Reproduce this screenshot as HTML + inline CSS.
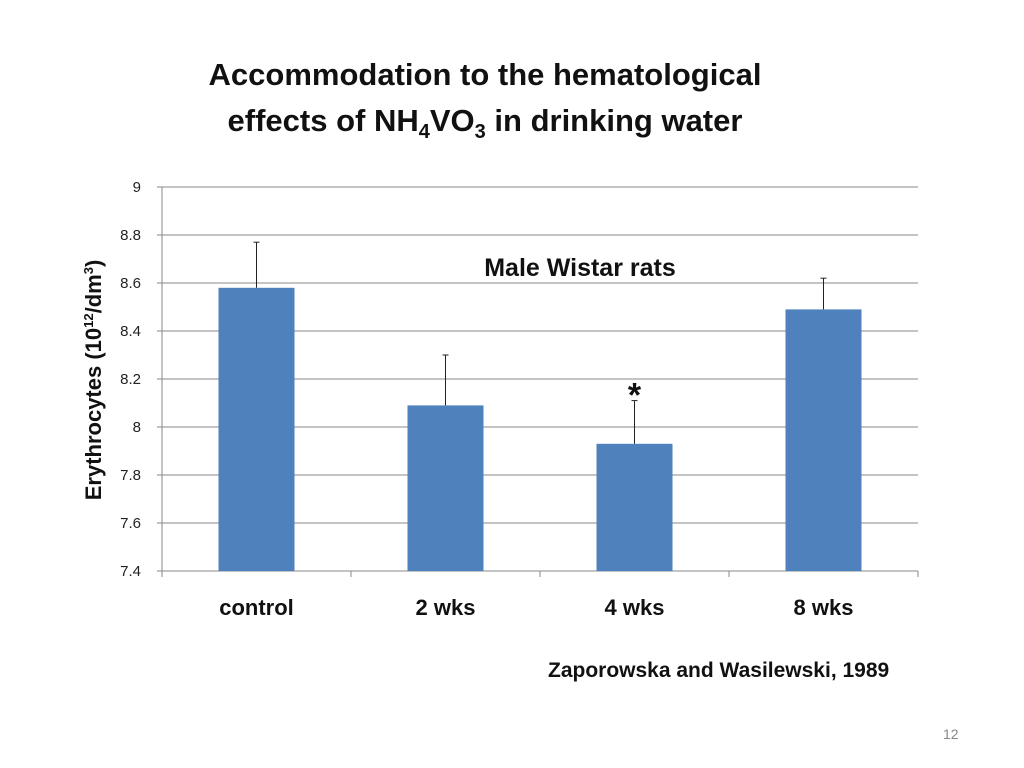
<!DOCTYPE html>
<html><head><meta charset="utf-8"><style>
body{margin:0;background:#fff;font-family:"Liberation Sans",sans-serif;}
#wrap{position:relative;width:1024px;height:768px;overflow:hidden;}
.t{position:absolute;white-space:nowrap;}
</style></head><body>
<div id="wrap">
<div class="t" style="left:0;width:970px;text-align:center;top:52px;font-size:31px;font-weight:bold;line-height:46px;color:#111;">Accommodation to the hematological<br>effects of NH<sub style="font-size:20px">4</sub>VO<sub style="font-size:20px">3</sub> in drinking water</div>
<svg id="chart" width="1024" height="768" style="position:absolute;left:0;top:0"></svg>
<div class="t" style="left:548px;top:659px;font-size:21px;font-weight:bold;color:#111;">Zaporowska and Wasilewski, 1989</div>
<div class="t" style="left:943px;top:726px;font-size:14px;color:#888;">12</div>
</div>
<script>
const categories=["control","2 wks","4 wks","8 wks"];
const values=[8.58,8.09,7.93,8.49];
const errors=[0.19,0.21,0.18,0.13];
const ticks=[7.4,7.6,7.8,8,8.2,8.4,8.6,8.8,9];
const NS="http://www.w3.org/2000/svg";
const svg=document.getElementById('chart');
const x0=162,x1=918,yTop=187,yBot=571,vMin=7.4,vMax=9;
const y=v=>yBot-(v-vMin)/(vMax-vMin)*(yBot-yTop);
const bw=(x1-x0)/categories.length;
const xc=i=>x0+bw*(i+0.5);
function mk(tag,attrs){const e=document.createElementNS(NS,tag);for(const k in attrs)e.setAttribute(k,attrs[k]);svg.appendChild(e);return e;}
ticks.forEach(t=>{
 const g=mk('line',{x1:x0,x2:x1,y1:y(t),y2:y(t),stroke:'#8a8a8a','stroke-width':1});
 
 
 const tx=mk('text',{x:141,y:y(t)+5,'text-anchor':'end','font-size':15,fill:'#222','font-family':'Liberation Sans, sans-serif'});
 tx.textContent=String(t);
 
 
 mk('line',{x1:x0-5,x2:x0,y1:y(t),y2:y(t),stroke:'#8a8a8a'});
});
const ax=mk('line',{x1:x0,x2:x0,y1:yTop,y2:yBot,stroke:'#8a8a8a'});


for(let i=0;i<=categories.length;i++){mk('line',{x1:x0+bw*i,x2:x0+bw*i,y1:yBot,y2:yBot+6,stroke:'#8a8a8a'});}
categories.forEach((c,i)=>{
 const b=mk('rect',{x:xc(i)-38,y:y(values[i]),width:76,height:yBot-y(values[i]),fill:'#4f81bd'});
 
 
 const top=y(values[i]+errors[i]);
 const e=mk('line',{x1:xc(i),x2:xc(i),y1:y(values[i]),y2:top,stroke:'#222'});
 
 
 mk('line',{x1:xc(i)-3,x2:xc(i)+3,y1:top,y2:top,stroke:'#222'});
 const l=mk('text',{x:xc(i),y:615,'text-anchor':'middle','font-size':22,'font-weight':'bold',fill:'#111','font-family':'Liberation Sans, sans-serif'});
 l.textContent=c;
 
 
});
const star=mk('text',{x:xc(2),y:y(values[2]+errors[2])+6,'text-anchor':'middle','font-size':34,'font-weight':'bold',fill:'#111','font-family':'Liberation Sans, sans-serif'});
star.textContent='*';


const ann=mk('text',{x:580,y:276,'text-anchor':'middle','font-size':25,'font-weight':'bold',fill:'#111','font-family':'Liberation Sans, sans-serif'});
ann.textContent='Male Wistar rats';


const yt=mk('text',{transform:'translate(101,380) rotate(-90)','text-anchor':'middle','font-size':22,'font-weight':'bold',fill:'#111','font-family':'Liberation Sans, sans-serif'});
yt.innerHTML='Erythrocytes (10<tspan font-size="13" dy="-8">12</tspan><tspan dy="8">/dm</tspan><tspan font-size="13" dy="-8">3</tspan><tspan dy="8">)</tspan>';


</script>
</body></html>
